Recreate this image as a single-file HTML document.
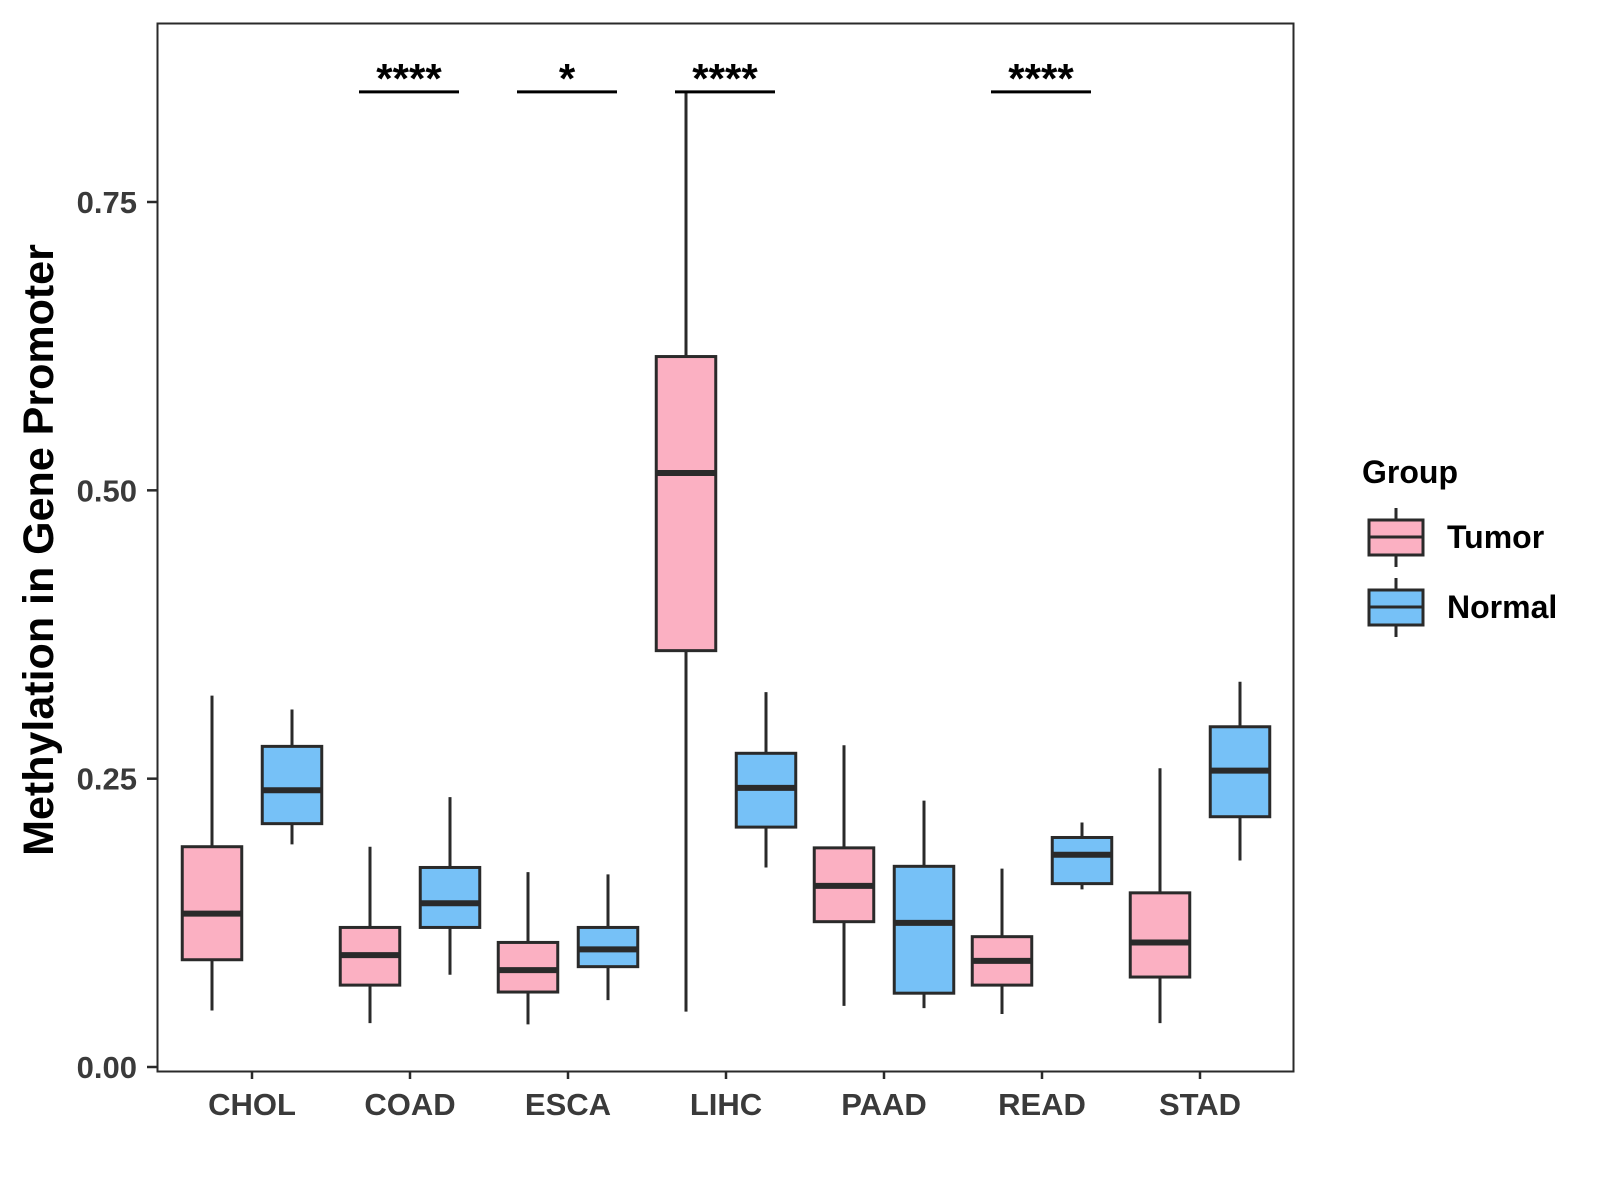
<!DOCTYPE html>
<html><head><meta charset="utf-8"><style>
html,body{margin:0;padding:0;background:#fff;}
svg{display:block;font-family:"Liberation Sans",Arial,sans-serif;}
</style></head><body>
<svg id="chart" width="1600" height="1200" viewBox="0 0 1600 1200">
<rect x="0" y="0" width="1600" height="1200" fill="#fff"/>
<g id="marks"></g>
<rect x="157.5" y="23.5" width="1136" height="1048" fill="none" stroke="#2a2a2a" stroke-width="2"/>
<g id="axes"></g>
<text x="39" y="550" transform="rotate(-90 39 550)" text-anchor="middle" dominant-baseline="central" font-size="43" font-weight="bold" fill="#000">Methylation in Gene Promoter</text>
<g transform="translate(-6,-2)">
<text x="1368" y="485" font-size="32" font-weight="bold" fill="#000">Group</text>
<g>
<line x1="1402" y1="510" x2="1402" y2="569" stroke="#2a2a2a" stroke-width="3"/>
<rect x="1375" y="522" width="54" height="35" fill="#fbb0c2" stroke="#2a2a2a" stroke-width="3"/>
<line x1="1375" y1="539" x2="1429" y2="539" stroke="#2a2a2a" stroke-width="3"/>
<text x="1453" y="550" font-size="32" font-weight="bold" fill="#000">Tumor</text>
</g>
<g>
<line x1="1402" y1="580" x2="1402" y2="639" stroke="#2a2a2a" stroke-width="3"/>
<rect x="1375" y="592" width="54" height="35" fill="#76c1f7" stroke="#2a2a2a" stroke-width="3"/>
<line x1="1375" y1="609" x2="1429" y2="609" stroke="#2a2a2a" stroke-width="3"/>
<text x="1453" y="620" font-size="32" font-weight="bold" fill="#000">Normal</text>
</g>
</g>
</svg>
<script>
const categories = ["CHOL","COAD","ESCA","LIHC","PAAD","READ","STAD"];
// [min, q1, median, q3, max]
const tumorStats = [
 [0.049,0.093,0.133,0.191,0.322],
 [0.038,0.071,0.097,0.121,0.191],
 [0.037,0.065,0.084,0.108,0.169],
 [0.048,0.361,0.515,0.616,0.846],
 [0.053,0.126,0.157,0.190,0.279],
 [0.046,0.071,0.092,0.113,0.172],
 [0.038,0.078,0.108,0.151,0.259]
];
const normalStats = [
 [0.193,0.211,0.240,0.278,0.310],
 [0.080,0.121,0.142,0.173,0.234],
 [0.058,0.087,0.102,0.121,0.167],
 [0.173,0.208,0.242,0.272,0.325],
 [0.051,0.064,0.125,0.174,0.231],
 [0.154,0.159,0.184,0.199,0.212],
 [0.179,0.217,0.257,0.295,0.334]
];
const yTicks = [0,0.25,0.5,0.75];
const yTickLabels = ["0.00","0.25","0.50","0.75"];
const sigCategories = ["COAD","ESCA","LIHC","READ"];
const sigLabels = ["****","*","****","****"];
const sigLevel = 0.8455;

const NS="http://www.w3.org/2000/svg";
function y(v){return 1067 - v*(1067-202)/0.75;}
function x(c){return 252 + categories.indexOf(c)*158;}
function mk(tag,attrs,parent){const e=document.createElementNS(NS,tag);for(const k in attrs)e.setAttribute(k,attrs[k]);parent.appendChild(e);return e;}
const marks=document.getElementById('marks');
const axes=document.getElementById('axes');
const BW=59.5, OFF=40;
function drawBox(cx,s,fill,name){
  const g=mk('g',{},marks);
  
  
  mk('line',{x1:cx,x2:cx,y1:y(s[4]),y2:y(s[0]),stroke:'#2a2a2a','stroke-width':3},g);
  mk('rect',{x:cx-BW/2,y:y(s[3]),width:BW,height:y(s[1])-y(s[3]),fill:fill,stroke:'#2a2a2a','stroke-width':3},g);
  mk('line',{x1:cx-BW/2,x2:cx+BW/2,y1:y(s[2]),y2:y(s[2]),stroke:'#2a2a2a','stroke-width':6},g);
}
categories.forEach((c,i)=>{
  drawBox(x(c)-OFF,tumorStats[i],'#fbb0c2','box-tumor-'+c.toLowerCase());
  drawBox(x(c)+OFF,normalStats[i],'#76c1f7','box-normal-'+c.toLowerCase());
  mk('line',{x1:x(c),x2:x(c),y1:1072,y2:1079,stroke:'#2a2a2a','stroke-width':2.5},axes);
  const t=mk('text',{x:x(c),y:1115,'text-anchor':'middle','font-size':'31','font-weight':'bold',fill:'#3a3a3a'},axes);
  t.textContent=c;
  
  
});
yTicks.forEach((v,i)=>{
  mk('line',{x1:147,x2:157,y1:y(v),y2:y(v),stroke:'#2a2a2a','stroke-width':2.5},axes);
  const t=mk('text',{x:137,y:y(v)+11,'text-anchor':'end','font-size':'31','font-weight':'bold',fill:'#3a3a3a'},axes);
  t.textContent=yTickLabels[i];
  
  
});
sigCategories.forEach((c,i)=>{
  const g=mk('g',{},marks);
  
  
  mk('line',{x1:x(c)-51,x2:x(c)+49,y1:y(sigLevel),y2:y(sigLevel),stroke:'#000','stroke-width':3},g);
  const t=mk('text',{x:x(c)-1,y:y(sigLevel)+1,'text-anchor':'middle','font-size':'42','font-weight':'bold',fill:'#000'},g);
  t.textContent=sigLabels[i];
});
</script>
</body></html>
